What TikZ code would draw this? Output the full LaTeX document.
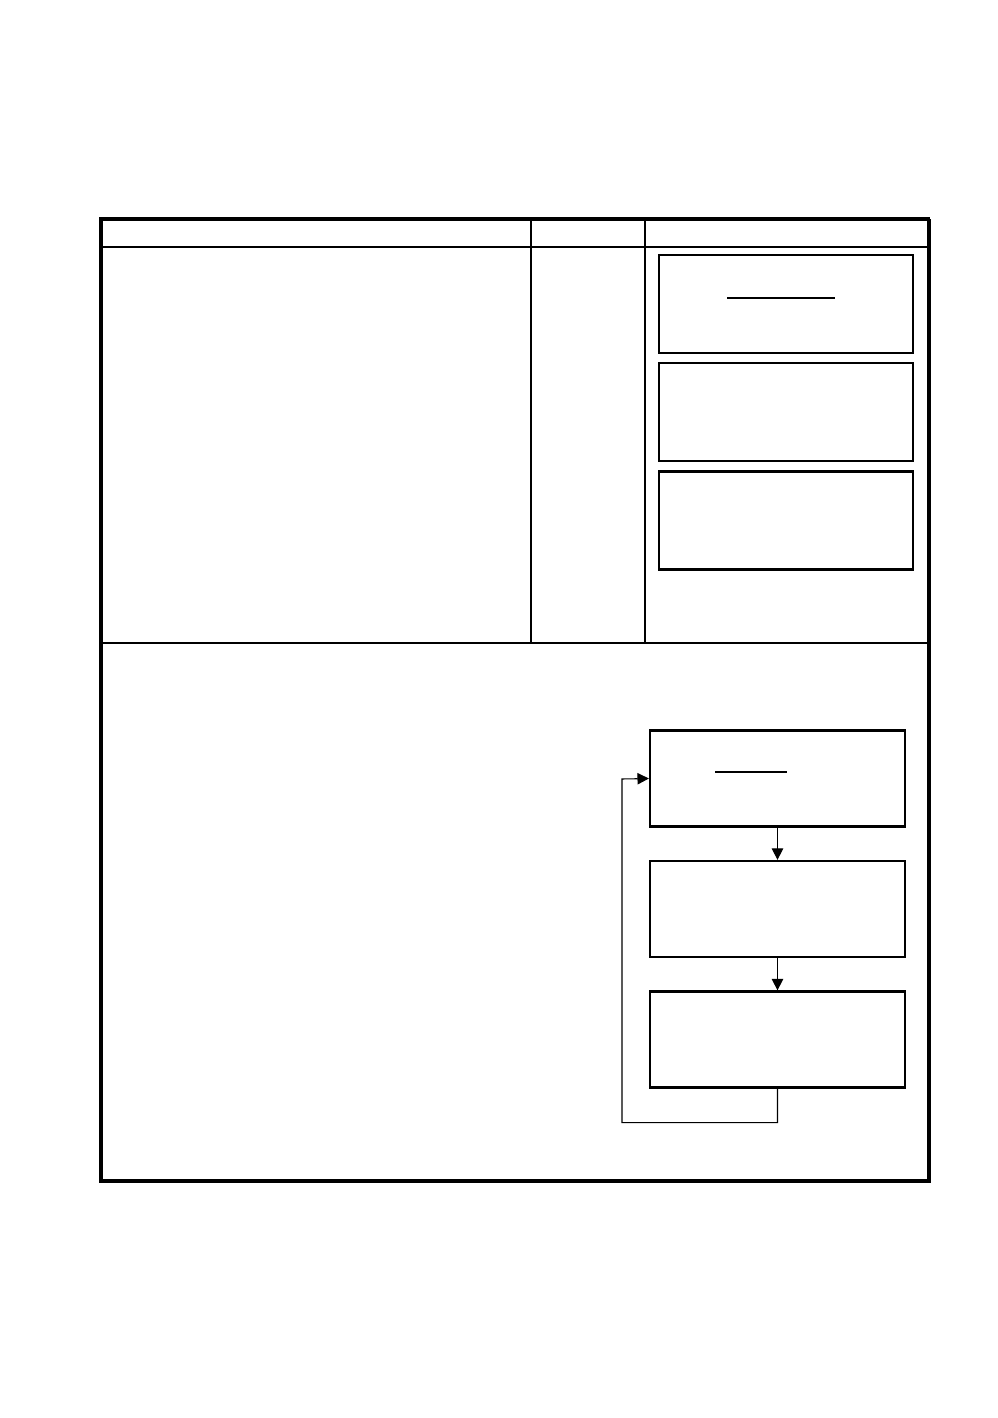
\documentclass[tikz,border=0pt]{standalone}
\usepackage{tikz}
\usetikzlibrary{arrows.meta}

\begin{document}
\begin{tikzpicture}[x=0.02cm,y=-0.02cm,
  frame/.style={line width=2.1pt},
  rule/.style={line width=0.6pt},
  box/.style={draw, line width=1.3pt, minimum width=5.08cm, minimum height=1.96cm, inner sep=0pt},
  flow/.style={line width=0.6pt, -{Triangle[length=6.5pt,width=6.5pt]}}]
\useasboundingbox (0,0) rectangle (998,1418);
% table
\draw[rule] (101,247) -- (931,247);
\draw[rule] (531,219) -- (531,643);
\draw[rule] (645,219) -- (645,643);
\draw[rule] (101,643) -- (931,643);
\draw[frame] (101,1181) -- (101,219) -- (930,219);
\draw[frame] (929,219) -- (929,1181);
\draw[frame] (99,1181) -- (931,1181);
% boxes upper right
\node[box] (s1) at (786,304) {};
\node[box] (s2) at (786,412) {};
\node[box] (s3) at (786,520.5) {};
\draw[rule] (727,298) -- (835,298);
% loop
\node[box, minimum width=5.1cm, minimum height=1.92cm] (c1) at (777.5,778.5) {};
\node[box, minimum width=5.1cm, minimum height=1.92cm] (c2) at (777.5,909) {};
\node[box, minimum width=5.1cm, minimum height=1.92cm] (c3) at (777.5,1039.5) {};
\draw[rule] (715,772) -- (787,772);
\draw[flow] (c1) -- (c2);
\draw[flow] (c2) -- (c3);
\draw[flow] (c3.south) -- ++(0,34) -| (622,779) -- (c1.west);
\end{tikzpicture}
\end{document}
